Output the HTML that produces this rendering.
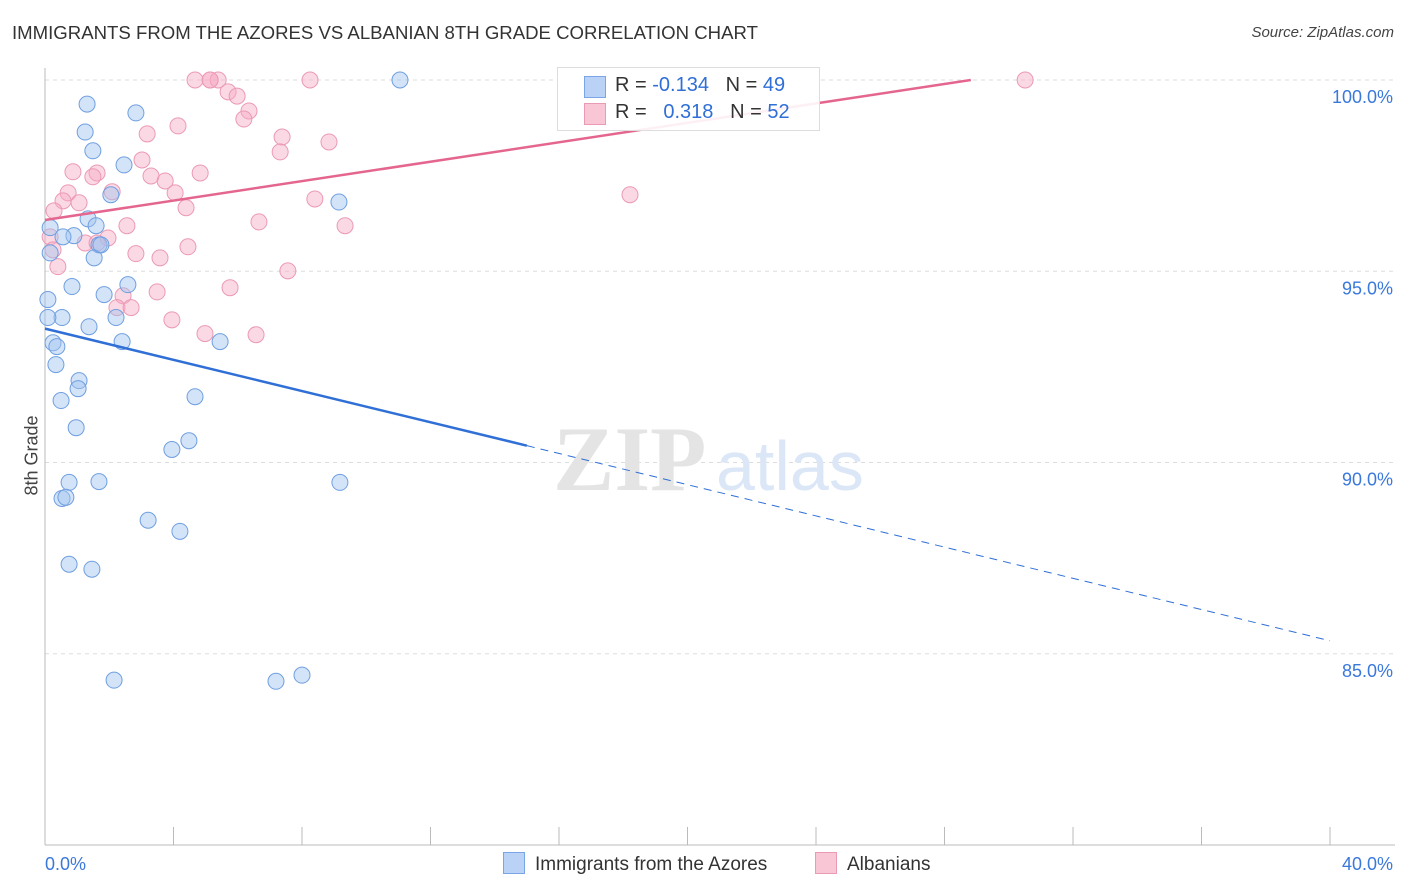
<!DOCTYPE html>
<html><head><meta charset="utf-8"><style>
body{margin:0;background:#fff;font-family:"Liberation Sans",sans-serif;}
#wrap{position:relative;width:1406px;height:892px;overflow:hidden;}
.t{position:absolute;white-space:nowrap;}
</style></head><body>
<div id="wrap">
<div class="t" style="left:12px;top:22px;font-size:18.6px;color:#333;">IMMIGRANTS FROM THE AZORES VS ALBANIAN 8TH GRADE CORRELATION CHART</div>
<div class="t" style="right:12px;top:24px;font-size:15px;color:#444;font-style:italic;">Source: ZipAtlas.com</div>
<div class="t" style="left:-8px;top:445px;font-size:18px;color:#444;transform:rotate(-90deg);">8th Grade</div>
<svg id="svg" width="1406" height="892" style="position:absolute;left:0;top:0;"></svg>
<div class="t" style="left:557px;top:67px;width:261px;height:62px;border:1px solid #ddd;background:rgba(255,255,255,0.9);"></div>
<div class="t" style="left:584px;top:76px;width:20px;height:20px;background:#b9d2f5;border:1px solid #7aa5e6;"></div>
<div class="t" style="left:584px;top:103px;width:20px;height:20px;background:#f9c6d5;border:1px solid #eb9ab4;"></div>
<div class="t" style="left:615px;top:74px;font-size:20px;color:#333;">R = <span style="color:#2f6fd6">-0.134</span>&nbsp;&nbsp;&nbsp;N = <span style="color:#2f6fd6">49</span></div>
<div class="t" style="left:615px;top:101px;font-size:20px;color:#333;">R = &nbsp;&nbsp;<span style="color:#2f6fd6">0.318</span>&nbsp;&nbsp;&nbsp;N = <span style="color:#2f6fd6">52</span></div>
<div class="t" style="left:503px;top:852px;font-size:19px;color:#333;"><span style="display:inline-block;width:20px;height:20px;background:#b9d2f5;border:1px solid #7aa5e6;vertical-align:-4px;margin-right:10px;"></span>Immigrants from the Azores</div>
<div class="t" style="left:815px;top:852px;font-size:19px;color:#333;"><span style="display:inline-block;width:20px;height:20px;background:#f9c6d5;border:1px solid #eb9ab4;vertical-align:-4px;margin-right:10px;"></span>Albanians</div>
</div>
<script>
const xTicks=[0,40];
const yTicks=[85,90,95,100];
const blueX=[11.05,1.31,2.83,1.25,1.49,2.46,2.05,9.15,1.34,1.59,0.90,0.16,0.56,1.68,0.16,1.53,2.58,0.84,1.84,0.09,2.21,0.53,0.09,1.37,0.25,0.37,2.40,5.45,0.34,1.06,1.03,0.50,4.67,0.97,4.48,3.95,1.68,0.75,9.18,0.53,0.65,3.21,4.20,0.75,1.46,2.15,7.19,8.00,1.74];
const blueY=[100.0,99.37,99.14,98.64,98.15,97.78,97.00,96.81,96.37,96.19,95.93,96.14,95.90,95.69,95.48,95.35,94.65,94.60,94.39,94.26,93.79,93.79,93.79,93.55,93.13,93.03,93.16,93.16,92.56,92.14,91.93,91.62,91.72,90.91,90.57,90.34,89.50,89.48,89.48,89.06,89.09,88.49,88.20,87.34,87.21,84.31,84.28,84.44,95.69];
const pinkX=[4.67,5.14,5.39,8.25,30.51,5.70,5.98,6.35,6.19,4.14,3.18,7.38,8.84,7.32,3.02,0.87,1.62,4.83,3.30,3.74,1.49,0.72,2.09,4.05,0.56,1.06,8.40,18.21,0.28,4.39,6.66,2.55,9.34,0.16,1.96,1.25,1.62,4.45,2.83,3.58,0.25,0.40,7.56,2.43,5.76,3.49,2.24,2.68,3.95,4.98,6.57,5.14];
const pinkY=[100,100,100,100,100,99.69,99.58,99.19,98.98,98.80,98.59,98.51,98.38,98.12,97.91,97.60,97.57,97.57,97.49,97.36,97.47,97.05,97.08,97.05,96.84,96.79,96.89,97.00,96.58,96.66,96.29,96.19,96.19,95.90,95.87,95.74,95.74,95.64,95.46,95.35,95.56,95.12,95.01,94.36,94.57,94.46,94.05,94.05,93.73,93.37,93.34,100];
const blueTrend=[93.50,-0.204];
const pinkTrend=[96.34,0.127];
const X0=45,X1=1330,Y0=80,Y1=845;
const xs=v=>X0+(v-0)/(40-0)*(X1-X0);
const ys=v=>Y0+(100-v)/(100-80)*(Y1-Y0);
const svg=document.getElementById('svg');const NS='http://www.w3.org/2000/svg';
function mk(tag,attrs){const e=document.createElementNS(NS,tag);for(const k in attrs)e.setAttribute(k,attrs[k]);svg.appendChild(e);return e;}
yTicks.forEach(v=>{const l=mk('line',{x1:X0,x2:1395,y1:ys(v),y2:ys(v),stroke:'#ddd','stroke-dasharray':'4,4'});


const t=mk('text',{x:1393,y:ys(v)+23,'text-anchor':'end','font-size':18,fill:'#3a78dc','font-family':'Liberation Sans, sans-serif'});t.textContent=v.toFixed(1)+'%';

});
const ax=mk('line',{x1:X0,x2:X0,y1:68,y2:Y1,stroke:'#bbb'});


const bx=mk('line',{x1:X0,x2:1395,y1:Y1,y2:Y1,stroke:'#bbb'});


for(let i=0;i<=10;i++){const x=xs(i*4);const tk=mk('line',{x1:x,x2:x,y1:827,y2:Y1,stroke:'#bbb'});

}
xTicks.forEach((v,i)=>{const t=mk('text',{x:i==0?45:1393,y:870,'text-anchor':i==0?'start':'end','font-size':18,fill:'#3a78dc','font-family':'Liberation Sans, sans-serif'});t.textContent=v.toFixed(1)+'%';

});
const w1=mk('text',{x:553,y:490,'font-size':92,fill:'#e4e4e4','font-family':'Liberation Serif, serif','font-weight':'bold'});w1.textContent='ZIP';


const w2=mk('text',{x:716,y:490,'font-size':70,fill:'#dbe7f7','font-family':'Liberation Sans, sans-serif'});w2.textContent='atlas';


function dots(X,Y,fill,stroke,name){X.forEach((x,i)=>{const c=mk('circle',{cx:xs(x),cy:ys(Y[i]),r:8,fill:fill,stroke:stroke,'stroke-width':1});

});}
dots(pinkX,pinkY,'rgba(246,170,195,0.45)','#eb9ab4','albanian-point');
dots(blueX,blueY,'rgba(160,195,240,0.45)','#6f9fe0','azores-point');
const bl=mk('line',{x1:xs(0),y1:ys(blueTrend[0]),x2:xs(15),y2:ys(blueTrend[0]+blueTrend[1]*15),stroke:'#2f6fd6','stroke-width':2.5});


const bd=mk('line',{x1:xs(15),y1:ys(blueTrend[0]+blueTrend[1]*15),x2:xs(40),y2:ys(blueTrend[0]+blueTrend[1]*40),stroke:'#2f6fd6','stroke-width':1,'stroke-dasharray':'8,6'});


const xe=(100-pinkTrend[0])/pinkTrend[1];
const pl=mk('line',{x1:xs(0),y1:ys(pinkTrend[0]),x2:xs(xe),y2:ys(100),stroke:'#e4668f','stroke-width':2.5});


</script>
</body></html>
